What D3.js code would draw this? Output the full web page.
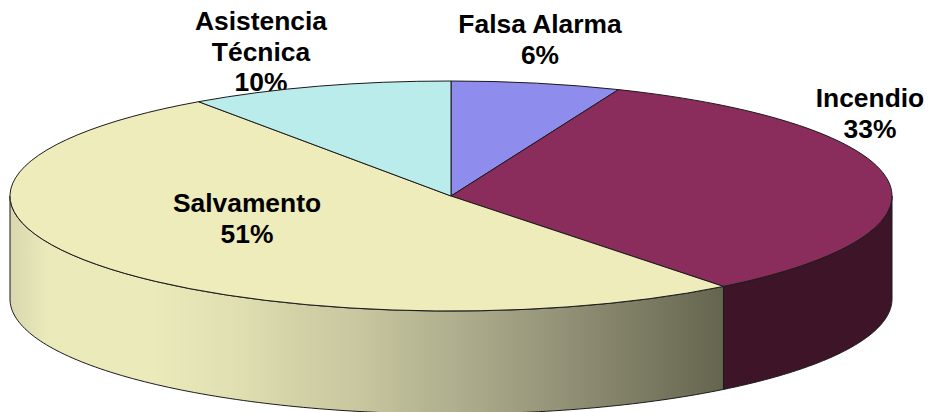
<!DOCTYPE html>
<html lang="es">

<head>
  <meta charset="UTF-8">
  <title>pie-3d</title>
  <script src="https://cdn.jsdelivr.net/npm/d3@7"></script>
  <style>
    body { margin: 0; background: #fff; }
    svg { display: block; }
    text { font-family: "Liberation Sans", Arial, sans-serif; font-weight: bold; font-size: 26.4px; fill: #000; text-anchor: middle; }
  </style>
</head>

<body>
<script>
// clockwise from 12 o'clock
const categories = ['Falsa Alarma', 'Incendio', 'Salvamento', 'Asistencia Técnica'];
const shares = [6.2, 33.2, 50.9, 9.7];

const topColors = ['#8e8cec', '#8b2d5c', '#eeecbb', '#bbecec'];
const sideColors = ['#47467a', '#3d1428', 'url(#salvamento-side)', '#5e7676'];

// label lines: category lines then the share, centre x and first baseline
const labelLines = [['Falsa Alarma'], ['Incendio'], ['Salvamento'], ['Asistencia', 'Técnica']];
const labelX = [540, 870, 247, 261];
const labelY = [33, 107, 212, 30];
const lineStep = 30.7;

const width = 930, height = 412;
const cx = 451, cy = 196, rx = 441, ry = 115, depth = 103;

const svg = d3.select('body').append('svg')
  .attr('width', width)
  .attr('height', height);

// the wall of the big slice goes from pale on the left to dark at its cut edge
const sideStops = [
  [0, '#d8d7ae'], [0.05, '#eae9ba'], [0.2, '#ebeabb'], [0.33, '#dfdeb0'], [0.41, '#d1d0a6'],
  [0.48, '#c9c8a0'], [0.62, '#b0af8e'], [0.76, '#96957a'], [1, '#65654f']
];
const grad = svg.append('defs').append('linearGradient')
  .attr('id', 'salvamento-side')
  .attr('gradientUnits', 'userSpaceOnUse')
  .attr('x1', cx - rx).attr('x2', 723)
  .attr('y1', 0).attr('y2', 0);
grad.selectAll('stop')
  .data(sideStops)
  .enter()
  .append('stop')
  .attr('offset', d => d[0])
  .attr('stop-color', d => d[1]);

const arcs = d3.pie().sort(null)(shares);

const x = d3.scaleLinear().domain([-1, 1]).range([cx - rx, cx + rx]);
const y = d3.scaleLinear().domain([-1, 1]).range([cy - ry, cy + ry]);

const wall = d3.area()
  .x(a => x(Math.sin(a)))
  .y0(a => y(-Math.cos(a)))
  .y1(a => y(-Math.cos(a)) + depth);

// front half only: angle from 12 o'clock between 90 and 270 degrees
const front = arcs.map(function (d) {
  const a0 = Math.max(d.startAngle, Math.PI / 2);
  const a1 = Math.min(d.endAngle, Math.PI * 1.5);
  return a1 > a0 ? d3.range(0, 121).map(i => a0 + (a1 - a0) * i / 120) : null;
});

// labels go under the pie, the top rim cuts the foot of "10%"
function drawLabels(g, idx) {
  idx.forEach(function (i) {
    const lines = labelLines[i].concat(Math.round(shares[i]) + '%');
    g.selectAll(null)
      .data(lines)
      .enter()
      .append('text')
      .attr('x', labelX[i])
      .attr('y', (d, j) => labelY[i] + j * lineStep)
      .text(d => d);
  });
}

drawLabels(svg.append('g'), [0, 1, 3]);

svg.append('g')
  .selectAll('path')
  .data(front.map((pts, i) => ({ pts: pts, i: i })).filter(d => d.pts))
  .enter()
  .append('path')
  .attr('d', d => wall(d.pts))
  .attr('fill', d => sideColors[d.i])
  .attr('stroke', '#1a1a1a')
  .attr('stroke-width', 1);

const arc = d3.arc().innerRadius(0).outerRadius(100);

svg.append('g')
  .attr('transform', 'translate(' + cx + ',' + cy + ') scale(' + rx / 100 + ',' + ry / 100 + ')')
  .selectAll('path')
  .data(arcs)
  .enter()
  .append('path')
  .attr('d', arc)
  .attr('fill', (d, i) => topColors[i])
  .attr('stroke', '#1a1a1a')
  .attr('stroke-width', 1)
  .attr('vector-effect', 'non-scaling-stroke');

drawLabels(svg.append('g'), [2]);
</script>
</body>

</html>
